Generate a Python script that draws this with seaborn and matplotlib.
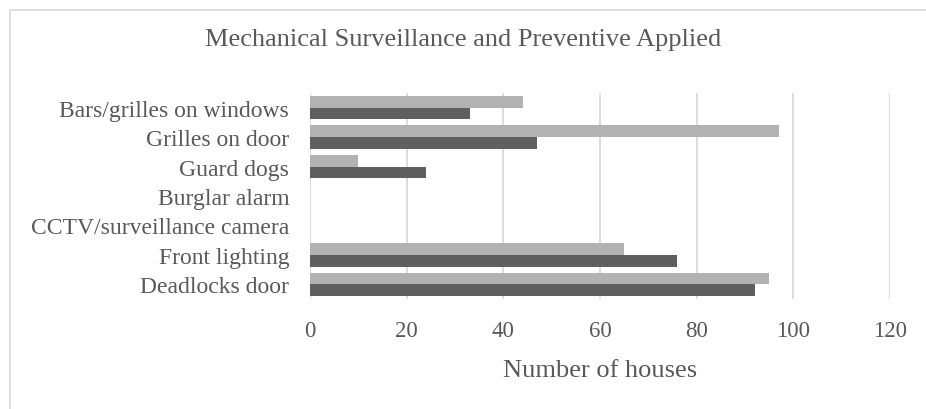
import pandas as pd
import matplotlib.pyplot as plt
import seaborn as sns
from matplotlib.patches import Rectangle

# data
categories = ['Bars/grilles on windows', 'Grilles on door', 'Guard dogs', 'Burglar alarm',
              'CCTV/surveillance camera', 'Front lighting', 'Deadlocks door']
series_a = [44, 97, 10, 0, 0, 65, 95]
series_b = [33, 47, 24, 0, 0, 76, 92]
series_names = ['Series 1', 'Series 2']
x_ticks = [0, 20, 40, 60, 80, 100, 120]

df = pd.DataFrame({
    'Category': categories * 2,
    'Count': series_a + series_b,
    'Series': [series_names[0]] * len(categories) + [series_names[1]] * len(categories),
})

sns.set_theme(style='white')
plt.rcParams['font.family'] = ['Liberation Serif', 'DejaVu Serif']
text_color = '#595959'

fig = plt.figure(figsize=(9.26, 4.10), dpi=100)
ax = fig.add_axes([0.3348, 0.2683, 0.6264, 0.5024])

sns.barplot(data=df, x='Count', y='Category', hue='Series', order=categories,
            palette=['#b2b2b2', '#5f5f5f'], width=0.8, saturation=1, ax=ax,
            legend=False, edgecolor='none')

ax.set_xlim(0, 120)
ax.set_xticks(x_ticks)
ax.xaxis.grid(True, color='#d9d9d9', linewidth=1.3)
ax.set_axisbelow(True)
for s in ax.spines.values():
    s.set_visible(False)

ax.tick_params(axis='x', length=0, pad=15, labelsize=16.5, labelcolor=text_color)
ax.tick_params(axis='y', length=0, pad=15, labelsize=17, labelcolor=text_color)
ax.set_ylabel('')
ax.set_xlabel('Number of houses', fontsize=19, color=text_color, labelpad=13)
fig.text(0.5, 0.903, 'Mechanical Surveillance and Preventive Applied',
         ha='center', va='center', fontsize=19, color=text_color)

# light chart-area frame
fig.patches.append(Rectangle((9.5 / 926, -0.01), 1.0, 1 - 10.5 / 410 + 0.01,
                             transform=fig.transFigure, fill=False,
                             edgecolor='#d9d9d9', linewidth=1.2))

fig.savefig('out.png', dpi=100)
